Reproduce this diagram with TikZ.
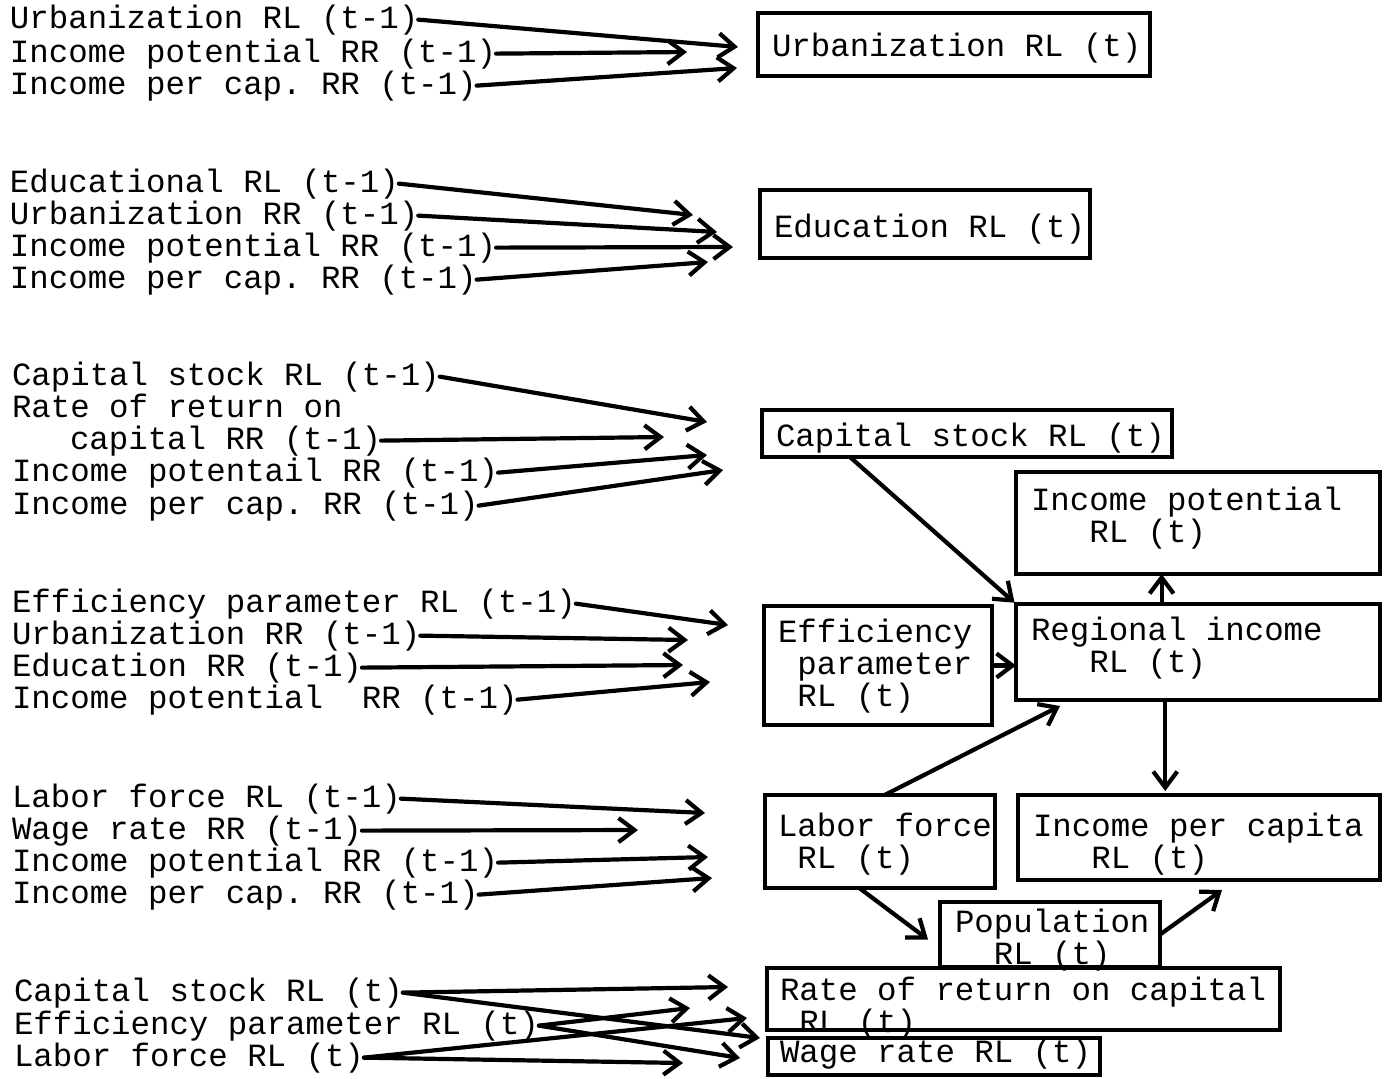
\documentclass[tikz,border=0pt]{standalone}
\usepackage{fontspec}
\setmainfont{Liberation Mono}
\usetikzlibrary{arrows.meta,calc}
\frenchspacing

\begin{document}
\begin{tikzpicture}[x=0.5pt,y=-0.5pt,
  font=\fontsize{16.2}{16.2}\selectfont,
  lbl/.style={anchor=base west, inner sep=0pt, outer sep=0pt},
  arr/.style={line width=2.1pt, line cap=round, -{Straight Barb[length=8pt,width=12pt]}},
  box/.style={draw, line width=2.4pt, anchor=north west, outer sep=0pt,
    inner ysep=0pt, align=flush left}]

\fill[white] (0,0) rectangle (1385,1078);
\useasboundingbox (0,0) rectangle (1385,1078);

% ---------- lagged inputs (left column) ----------
\node[lbl] (u1) at (10,28)  {Urbanization RL (t-1)};
\node[lbl] (u2) at (10,62)  {Income potential RR (t-1)};
\node[lbl] (u3) at (10,94)  {Income per cap. RR (t-1)};

\node[lbl] (e1) at (10,192) {Educational RL (t-1)};
\node[lbl] (e2) at (10,224) {Urbanization RR (t-1)};
\node[lbl] (e3) at (10,256) {Income potential RR (t-1)};
\node[lbl] (e4) at (10,288) {Income per cap. RR (t-1)};

\node[lbl] (c1) at (12,385) {Capital stock RL (t-1)};
\node[lbl] (c2) at (12,417) {Rate of return on};
\node[lbl] (c3) at (70,449) {capital RR (t-1)};
\node[lbl] (c4) at (12,481) {Income potentail RR (t-1)};
\node[lbl] (c5) at (12,514) {Income per cap. RR (t-1)};

\node[lbl] (f1) at (12,612) {Efficiency parameter RL (t-1)};
\node[lbl] (f2) at (12,644) {Urbanization RR (t-1)};
\node[lbl] (f3) at (12,676) {Education RR (t-1)};
\node[lbl] (f4) at (12,708) {Income potential\ \ RR (t-1)};

\node[lbl] (l1) at (12,807) {Labor force RL (t-1)};
\node[lbl] (l2) at (12,839) {Wage rate RR (t-1)};
\node[lbl] (l3) at (12,871) {Income potential RR (t-1)};
\node[lbl] (l4) at (12,903) {Income per cap. RR (t-1)};

\node[lbl] (g1) at (14,1001) {Capital stock RL (t)};
\node[lbl] (g2) at (14,1034) {Efficiency parameter RL (t)};
\node[lbl] (g3) at (14,1066) {Labor force RL (t)};

% ---------- current-period boxes ----------
\node[box, minimum height=31.5pt, text width=182pt, inner xsep=7pt,
      text height=11.5pt, text depth=0pt] (urbB) at (758,13)
  {\mbox{Urbanization RL (t)}};
\node[box, minimum height=34pt, text width=151pt, inner xsep=7pt,
      text height=13pt, text depth=0pt] (eduB) at (760,190)
  {\mbox{Education RL (t)}};
\node[box, minimum height=23.5pt, text width=191pt, inner xsep=7pt,
      text height=12.5pt, text depth=0pt] (capB) at (762,410)
  {\mbox{Capital stock RL (t)}};
\node[box, minimum height=51pt, text width=167pt, inner xsep=7.5pt,
      text height=0pt, text depth=13pt] (ipotB) at (1016,472)
  {\mbox{Income potential}\\\mbox{\ \ \ RL (t)}};
\node[box, minimum height=59.5pt, text width=100pt, inner xsep=7pt,
      text height=0pt, text depth=23.5pt] (effB) at (764,606)
  {\mbox{Efficiency}\\\mbox{\ parameter}\\\mbox{\ RL (t)}};
\node[box, minimum height=48pt, text width=167pt, inner xsep=7.5pt,
      text height=0pt, text depth=12pt] (regB) at (1016,604)
  {\mbox{Regional income}\\\mbox{\ \ \ RL (t)}};
\node[box, minimum height=46.5pt, text width=102pt, inner xsep=6.5pt,
      text height=0pt, text depth=5.5pt] (labB) at (765,795)
  {\mbox{Labor force}\\\mbox{\ RL (t)}};
\node[box, minimum height=42.5pt, text width=166pt, inner xsep=7.5pt,
      text height=0pt, text depth=1.5pt] (ipcB) at (1018,795)
  {\mbox{Income per capita}\\\mbox{\ \ \ RL (t)}};
\node[box, minimum height=32.5pt, text width=95pt, inner xsep=7.5pt,
      text height=0pt, text depth=2.5pt] (popB) at (940,902)
  {\mbox{Population}\\\mbox{\ \ RL (t)}};
\node[box, minimum height=31pt, text width=243.5pt, inner xsep=6.5pt,
      text height=1pt, text depth=0pt] (rorB) at (767,968)
  {\mbox{Rate of return on capital}\\\mbox{\ RL (t)}};
\node[box, minimum height=18.5pt, text width=154pt, inner xsep=6pt,
      text height=5.5pt, text depth=0pt] (wageB) at (768,1038)
  {\mbox{Wage rate RL (t)}};

% ---------- arrow tips of the lagged inputs ----------
\coordinate (a11) at (738,47);  \coordinate (a12) at (687,52);  \coordinate (a13) at (737,68);
\coordinate (a21) at (693,215); \coordinate (a22) at (717,232); \coordinate (a23) at (733,247); \coordinate (a24) at (708,262);
\coordinate (a31) at (707,422); \coordinate (a32) at (664,437); \coordinate (a33) at (707,455); \coordinate (a34) at (723,470);
\coordinate (a41) at (728,625); \coordinate (a42) at (688,640); \coordinate (a43) at (683,665); \coordinate (a44) at (710,682);
\coordinate (a51) at (705,813); \coordinate (a52) at (638,830); \coordinate (a53) at (708,857); \coordinate (a54) at (712,878);
\coordinate (a61) at (728,987); \coordinate (a62) at (760,1038);
\coordinate (a63) at (690,1008); \coordinate (a64) at (740,1058);
\coordinate (a65) at (747,1018); \coordinate (a66) at (683,1063);

\draw[arr] (u1.east) -- (a11);
\draw[arr] (u2.east) -- (a12);
\draw[arr] (u3.east) -- (a13);

\draw[arr] (e1.east) -- (a21);
\draw[arr] (e2.east) -- (a22);
\draw[arr] (e3.east) -- (a23);
\draw[arr] (e4.east) -- (a24);

\draw[arr] (c1.east) -- (a31);
\draw[arr] (c3.east) -- (a32);
\draw[arr] (c4.east) -- (a33);
\draw[arr] (c5.east) -- (a34);

\draw[arr] (f1.east) -- (a41);
\draw[arr] (f2.east) -- (a42);
\draw[arr] (f3.east) -- (a43);
\draw[arr] (f4.east) -- (a44);

\draw[arr] (l1.east) -- (a51);
\draw[arr] (l2.east) -- (a52);
\draw[arr] (l3.east) -- (a53);
\draw[arr] (l4.east) -- (a54);

\draw[arr] (g1.east) -- (a61);
\draw[arr] (g1.east) -- (a62);
\draw[arr] (g2.east) -- (a63);
\draw[arr] (g2.east) -- (a64);
\draw[arr] (g3.east) -- (a65);
\draw[arr] (g3.east) -- (a66);

% ---------- links between current-period boxes ----------
\draw[arr, shorten >=1pt] ($(capB.south west)+(88,0)$) -- (regB.north west);
\draw[arr] (effB.east) -- (effB.east -| regB.west);
\draw[arr] ($(regB.north west)!0.4!(regB.north east)$) -- ($(ipotB.south west)!0.4!(ipotB.south east)$);
\coordinate (rd) at ($(regB.south west)!0.41!(regB.south east)$);
\draw[arr, shorten >=2pt] (rd) -- (rd |- ipcB.north);
\draw[arr] ($(labB.north west)!0.52!(labB.north east)$) -- ($(regB.south west)+(44,6)$);
\draw[arr] ($(labB.south west)!0.41!(labB.south east)$) -- ($(popB.west)+(-12,5)$);
\draw[arr] (popB.east) -- ($(ipcB.south west)+(204,10)$);

\end{tikzpicture}
\end{document}
